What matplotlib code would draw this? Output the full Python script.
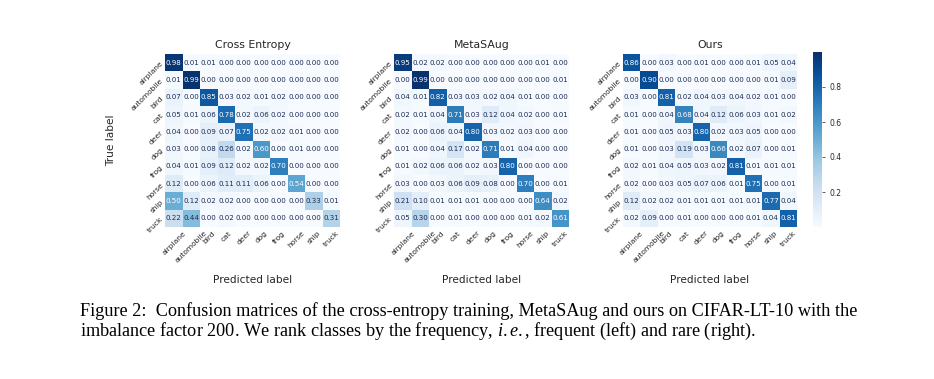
import numpy as np
import matplotlib
matplotlib.use("Agg")
import matplotlib.pyplot as plt
import seaborn as sns

classes = ["airplane", "automobile", "bird", "cat", "deer",
           "dog", "frog", "horse", "ship", "truck"]

ce = [
    [0.98, 0.01, 0.01, 0.00, 0.00, 0.00, 0.00, 0.00, 0.00, 0.00],
    [0.01, 0.99, 0.00, 0.00, 0.00, 0.00, 0.00, 0.00, 0.00, 0.00],
    [0.07, 0.00, 0.85, 0.03, 0.02, 0.01, 0.02, 0.00, 0.00, 0.00],
    [0.05, 0.01, 0.06, 0.78, 0.02, 0.06, 0.02, 0.00, 0.00, 0.00],
    [0.04, 0.00, 0.09, 0.07, 0.75, 0.02, 0.02, 0.01, 0.00, 0.00],
    [0.03, 0.00, 0.08, 0.26, 0.02, 0.60, 0.00, 0.01, 0.00, 0.00],
    [0.04, 0.01, 0.09, 0.12, 0.02, 0.02, 0.70, 0.00, 0.00, 0.00],
    [0.12, 0.00, 0.06, 0.11, 0.11, 0.06, 0.00, 0.54, 0.00, 0.00],
    [0.50, 0.12, 0.02, 0.02, 0.00, 0.00, 0.00, 0.00, 0.33, 0.01],
    [0.22, 0.44, 0.00, 0.02, 0.00, 0.00, 0.00, 0.00, 0.00, 0.31],
]

metasaug = [
    [0.95, 0.02, 0.02, 0.00, 0.00, 0.00, 0.00, 0.00, 0.01, 0.00],
    [0.00, 0.99, 0.00, 0.00, 0.00, 0.00, 0.00, 0.00, 0.00, 0.01],
    [0.04, 0.01, 0.82, 0.03, 0.03, 0.02, 0.04, 0.01, 0.00, 0.00],
    [0.02, 0.01, 0.04, 0.71, 0.03, 0.12, 0.04, 0.02, 0.00, 0.01],
    [0.02, 0.00, 0.06, 0.04, 0.80, 0.03, 0.02, 0.03, 0.00, 0.00],
    [0.01, 0.00, 0.04, 0.17, 0.02, 0.71, 0.01, 0.04, 0.00, 0.00],
    [0.01, 0.02, 0.06, 0.06, 0.02, 0.03, 0.80, 0.00, 0.00, 0.00],
    [0.03, 0.00, 0.03, 0.06, 0.09, 0.08, 0.00, 0.70, 0.00, 0.01],
    [0.21, 0.10, 0.01, 0.01, 0.01, 0.00, 0.00, 0.00, 0.64, 0.02],
    [0.05, 0.30, 0.00, 0.01, 0.00, 0.00, 0.00, 0.01, 0.02, 0.61],
]

ours = [
    [0.86, 0.00, 0.03, 0.00, 0.01, 0.00, 0.00, 0.01, 0.05, 0.04],
    [0.00, 0.90, 0.00, 0.00, 0.00, 0.00, 0.00, 0.00, 0.01, 0.09],
    [0.03, 0.00, 0.81, 0.02, 0.04, 0.03, 0.04, 0.02, 0.01, 0.00],
    [0.01, 0.00, 0.04, 0.68, 0.04, 0.12, 0.06, 0.03, 0.01, 0.02],
    [0.01, 0.00, 0.05, 0.03, 0.80, 0.02, 0.03, 0.05, 0.00, 0.00],
    [0.01, 0.00, 0.03, 0.19, 0.03, 0.66, 0.02, 0.07, 0.00, 0.01],
    [0.02, 0.01, 0.04, 0.05, 0.03, 0.02, 0.81, 0.01, 0.01, 0.01],
    [0.02, 0.00, 0.03, 0.05, 0.07, 0.06, 0.01, 0.75, 0.00, 0.01],
    [0.12, 0.02, 0.02, 0.01, 0.01, 0.01, 0.01, 0.01, 0.77, 0.04],
    [0.02, 0.09, 0.00, 0.01, 0.00, 0.00, 0.00, 0.01, 0.04, 0.81],
]

titles = ["Cross Entropy", "MetaSAug", "Ours"]
matrices = [ce, metasaug, ours]

sns.set_style("white")
plt.rcParams["mathtext.fontset"] = "custom"
plt.rcParams["mathtext.rm"] = "Liberation Serif"
plt.rcParams["mathtext.it"] = "Liberation Serif:italic"

W, H = 934, 379
fig = plt.figure(figsize=(W / 100, H / 100), dpi=100)

# axes boxes in pixels: left, right, top, bottom
boxes = [(165, 340, 54, 227), (394, 569, 54, 227), (623, 797, 54, 227)]
cbar_ax = fig.add_axes([813 / W, 1 - 227 / H, 9 / W, 175 / H])

for i, (mat, title, (l, r, t, b)) in enumerate(zip(matrices, titles, boxes)):
    ax = fig.add_axes([l / W, 1 - b / H, (r - l) / W, (b - t) / H])
    last = i == 2
    sns.heatmap(np.array(mat), ax=ax, cmap="Blues", vmin=0, vmax=1.0,
                annot=True, fmt=".2f", annot_kws={"fontsize": 5.1},
                xticklabels=classes, yticklabels=classes,
                cbar=last, cbar_ax=cbar_ax if last else None)
    # navy annotation text on the light cells
    for txt in ax.texts:
        if txt.get_color() != "w":
            txt.set_color("#1c2b55")
    ax.set_title(title, fontsize=7.8, pad=4)
    ax.set_xlabel("Predicted label", fontsize=7.6, labelpad=8)
    if i == 0:
        ax.set_ylabel("True label", fontsize=7.6, labelpad=10)
    plt.setp(ax.get_xticklabels(), rotation=45, ha="center", fontsize=5.4)
    plt.setp(ax.get_yticklabels(), rotation=45, ha="right", va="center",
             rotation_mode="anchor", fontsize=5.4)
    ax.tick_params(length=0, pad=2)

cbar_ax.set_yticks([0.2, 0.4, 0.6, 0.8])
cbar_ax.tick_params(labelsize=5.5, length=2, width=0.5, right=True)
cbar_ax.set_ylim(0, 1.0)

fig.text(80 / W, 1 - 316 / H,
         "Figure 2:  Confusion matrices of the cross-entropy training, MetaSAug and ours on CIFAR-LT-10 with the",
         fontsize=13.15, family="Liberation Serif", va="baseline", color="black")
fig.text(80 / W, 1 - 336 / H,
         "imbalance factor 200. We rank classes by the frequency, $i.e.$, frequent (left) and rare (right).",
         fontsize=13.15, family="Liberation Serif", va="baseline", color="black")

fig.savefig("out.png", dpi=100)
